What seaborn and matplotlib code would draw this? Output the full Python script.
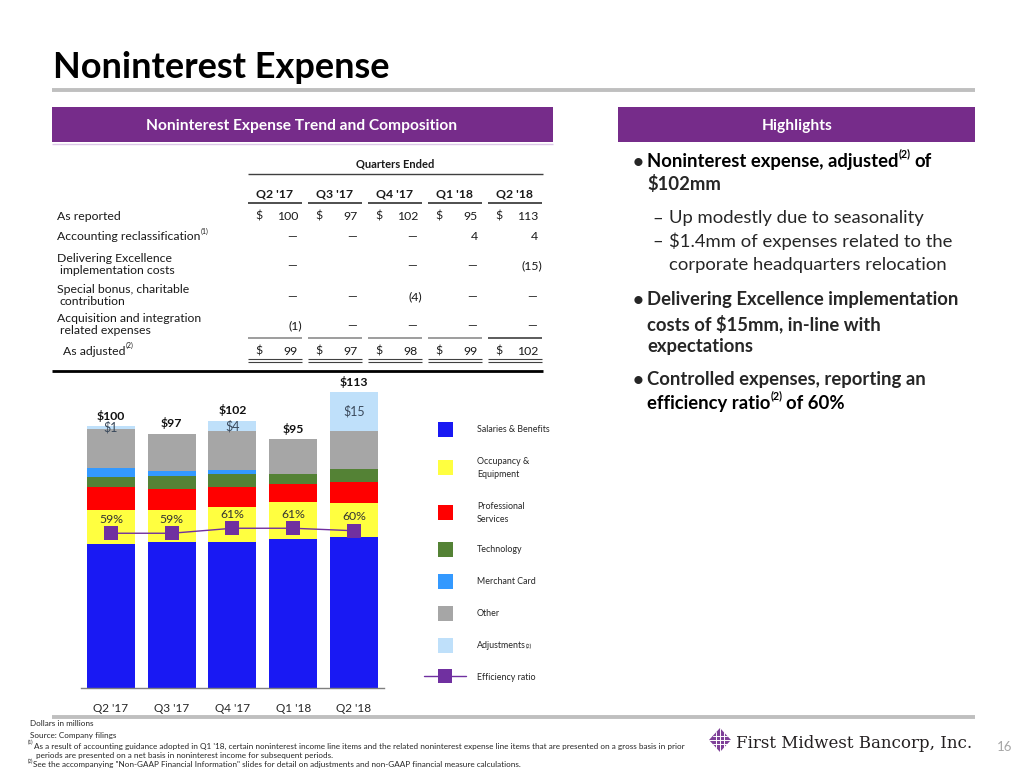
import numpy as np
import pandas as pd
import matplotlib
matplotlib.use("Agg")
import matplotlib.pyplot as plt
import seaborn as sns
from matplotlib.patches import Rectangle, Polygon
from matplotlib.lines import Line2D

# ---------------- data ----------------
quarters = ["Q2 '17", "Q3 '17", "Q4 '17", "Q1 '18", "Q2 '18"]
salaries = [55.0, 55.7, 55.7, 56.8, 57.7]
occupancy = [13.0, 12.2, 13.2, 14.1, 13.1]
professional = [8.9, 8.0, 7.9, 7.1, 7.9]
technology = [3.8, 5.0, 4.8, 3.8, 5.0]
merchant = [3.1, 2.0, 1.5, 0.0, 0.0]
other = [15.2, 14.1, 14.9, 13.2, 14.3]
adjustments = [1, 0, 4, 0, 15]
reported_total = [100, 97, 102, 95, 113]
efficiency = [59, 59, 61, 61, 60]

layer_names = ["Salaries & Benefits", "Occupancy &\nEquipment", "Professional\nServices",
               "Technology", "Merchant Card", "Other", "Adjustments"]
layer_colors = ["#1919F3", "#FFFF40", "#FF0000", "#548235", "#3399FF", "#A6A6A6", "#BFE0FA"]
eff_color = "#7030A0"

# table
row_labels = ["As reported", "Accounting reclassification", "Delivering Excellence\n implementation costs",
              "Special bonus, charitable\n contribution", "Acquisition and integration\n related expenses",
              "As adjusted"]
as_reported = [100, 97, 102, 95, 113]
accounting_reclass = [None, None, None, 4, 4]
de_costs = [None, "", None, None, -15]
special_bonus = [None, None, -4, None, None]
acquisition = [-1, None, None, None, None]
as_adjusted = [99, 97, 98, 99, 102]

# ---------------- figure ----------------
sns.set_theme(style="white")
plt.rcParams["font.family"] = ["Lato", "DejaVu Sans"]

W, H = 1024, 768
fig = plt.figure(figsize=(W / 100, H / 100), dpi=100)
fig.patch.set_facecolor("white")
renderer = fig.canvas.get_renderer()


def fx(x):
    return x / W


def fy(y):
    return 1 - y / H


def hline(x0, x1, y, color, lw):
    fig.add_artist(Line2D([fx(x0), fx(x1)], [fy(y), fy(y)], transform=fig.transFigure,
                          color=color, lw=lw, solid_capstyle="butt"))


def txt(x, y, s, fs, **kw):
    kw.setdefault("va", "center_baseline")
    return fig.text(fx(x), fy(y), s, fontsize=fs, **kw)


def run(x, y, parts, fs, weight="normal", color="#000000", family=None):
    em = fs * 100 / 72
    for s, kind in parts:
        if kind == "gap":
            x += s * em
            continue
        if kind == "sup":
            size, dy = fs * 0.58, -0.42 * em
        elif kind == "sub":
            size, dy = fs * 0.6, 0.12 * em
        else:
            size, dy = fs, 0
        kw = dict(fontsize=size, fontweight=weight, color=color, ha="left", va="center_baseline")
        if family:
            kw["family"] = family
        t = fig.text(fx(x), fy(y + dy), s, **kw)
        x += t.get_window_extent(renderer).width
    return x


# ---------------- title & headers ----------------
txt(53, 64, "Noninterest Expense", 26, fontweight="bold", color="#000000")
hline(52, 975, 90, "#BFBFBF", 2.8)

purple = "#762C8A"
fig.add_artist(Rectangle((fx(52), fy(142)), (553 - 52) / W, 35 / H, transform=fig.transFigure,
                         facecolor=purple, edgecolor="none"))
fig.add_artist(Rectangle((fx(618), fy(142)), (975 - 618) / W, 35 / H, transform=fig.transFigure,
                         facecolor=purple, edgecolor="none"))
hline(52, 553, 143.5, "#DCC8E8", 1)
txt(302, 124.5, "Noninterest Expense Trend and Composition", 11.2, fontweight="bold",
    color="white", ha="center")
txt(797, 124.5, "Highlights", 11.2, fontweight="bold", color="white", ha="center")

# ---------------- table ----------------
tfs = 8.8
col_right = [298, 358, 418, 478, 538]
dollar_x = [255, 315, 375, 435, 495]
segs = [(248, 302), (308, 362), (368, 422), (428, 482), (488, 542)]
txt(395, 163, "Quarters Ended", 8.0, fontweight="bold", ha="center", color="#1a1a1a")
hline(248, 543, 173.5, "#404040", 1.0)
for (a, b), q in zip(segs, quarters):
    txt((a + b) / 2, 193, q, tfs, fontweight="bold", ha="center", color="#1a1a1a")
    hline(a, b, 203, "#404040", 1.3)

label_pos = [(57, [215]), (57, [236]), (57, [258, 270]), (57, [289, 301]), (57, [318, 330]), (63, [350])]
for (x0, ys), lab in zip(label_pos, row_labels):
    lines = lab.split("\n")
    for yy, line in zip(ys, lines):
        if lab.startswith("Accounting"):
            run(x0, yy, [(line, "n"), ("(1)", "sup")], tfs, color="#1a1a1a")
        elif lab.startswith("As adjusted"):
            run(x0, yy, [(line, "n"), ("(2)", "sup")], tfs, color="#1a1a1a")
        else:
            txt(x0 + (3 if line.startswith(" ") else 0), yy, line.strip(), tfs, color="#1a1a1a")


def put_value(i, y, v, dollar=False):
    if v == "":
        return
    if dollar:
        txt(dollar_x[i], y, "$", tfs, color="#1a1a1a")
    if v is None:
        txt(col_right[i] - 1, y, "\u2014", tfs, ha="right", color="#1a1a1a")
    elif v < 0:
        txt(col_right[i] + 4, y, f"({-v})", tfs, ha="right", color="#1a1a1a")
    else:
        txt(col_right[i], y, f"{v}", tfs, ha="right", color="#1a1a1a")


rows_vals = [(as_reported, 215, True), (accounting_reclass, 236, False), (de_costs, 265, False),
             (special_bonus, 296, False), (acquisition, 325, False), (as_adjusted, 350, True)]
for vals, yy, dol in rows_vals:
    for i, v in enumerate(vals):
        put_value(i, yy, v, dol)

for k, (a, b) in enumerate(segs):
    hline(a, b, 337.5, "#404040" if k == 4 else "#8C8C8C", 1.2)
    hline(a, b, 359.5, "#404040", 0.8)
    hline(a, b, 362.3, "#404040", 0.8)
hline(52, 543, 371, "#000000", 2.0)

# ---------------- chart ----------------
ax = fig.add_axes([fx(80.6), fy(688), 303.75 / W, (688 - 375) / H])
ax.patch.set_alpha(0)
df = pd.DataFrame({"quarter": quarters})
layers = [salaries, occupancy, professional, technology, merchant, other, adjustments]
cum = np.zeros(len(quarters))
for i, vals in enumerate(layers):
    cum = cum + np.array(vals, dtype=float)
    df[f"c{i}"] = cum.copy()
for i in reversed(range(len(layers))):
    sns.barplot(data=df, x="quarter", y=f"c{i}", order=quarters, color=layer_colors[i],
                saturation=1, width=0.79, errorbar=None, linewidth=0, ax=ax)

ax.set_ylim(0, (688 - 375) / 2.62)
ax.set_xlim(-0.5, 4.5)
ax.set_xlabel("")
ax.set_ylabel("")
ax.set_yticks([])
for s in ["left", "top", "right"]:
    ax.spines[s].set_visible(False)
ax.spines["bottom"].set_color("#7F7F7F")
ax.spines["bottom"].set_linewidth(1.0)
ax.tick_params(axis="x", length=0, pad=11, labelsize=8.5, labelcolor="#262626")

base_tot = df["c5"].values
for i, (tot, adj) in enumerate(zip(reported_total, adjustments)):
    ax.annotate(f"${tot}", (i, tot), xytext=(0, 7.5), textcoords="offset points",
                ha="center", va="center", fontsize=8.8, fontweight="bold", color="#111111")
    if adj > 0:
        ax.text(i, base_tot[i] + adj / 2, f"${adj}", ha="center", va="center",
                fontsize=9, color="#3B4A5C")

ax2 = ax.twinx()
ax2.patch.set_alpha(0)
sns.lineplot(x=np.arange(len(quarters)), y=efficiency, ax=ax2, color=eff_color, linewidth=1.0,
             marker="s", markersize=10, markeredgewidth=0, alpha=1)
ax2.set_ylim(-2.9, 122.3)
ax2.set_yticks([])
ax2.set_ylabel("")
for s in ax2.spines.values():
    s.set_visible(False)
ax.set_xlim(-0.5, 4.5)
for i, v in enumerate(efficiency):
    ax2.annotate(f"{v}%", (i, v), xytext=(0, 10), textcoords="offset points",
                 ha="center", va="center", fontsize=8.8, color="#333333")

# legend (drawn manually to match irregular spacing)
leg_y = [429, 467, 512, 549, 581, 613, 645]
lfs = 6.4
for name, col, yy in zip(layer_names, layer_colors, leg_y):
    fig.add_artist(Rectangle((fx(438), fy(yy + 7.5)), 15 / W, 15 / H, transform=fig.transFigure,
                             facecolor=col, edgecolor="none"))
    lines = name.split("\n")
    if name == "Adjustments":
        run(477, yy, [(name, "n"), ("(2)", "sub")], lfs, color="#262626")
    elif len(lines) == 1:
        txt(477, yy, name, lfs, color="#262626")
    else:
        txt(477, yy - 6.5, lines[0], lfs, color="#262626")
        txt(477, yy + 6.5, lines[1], lfs, color="#262626")
fig.add_artist(Line2D([fx(424), fx(466)], [fy(676), fy(676)], transform=fig.transFigure,
                      color=eff_color, lw=1.0))
fig.add_artist(Line2D([fx(445)], [fy(676)], transform=fig.transFigure, color=eff_color,
                      marker="s", markersize=10, markeredgewidth=0, linestyle="none"))
txt(477, 676, "Efficiency ratio", lfs, color="#262626")

# ---------------- highlights ----------------
hfs = 13.3
run(647, 160, [("Noninterest expense, adjusted", "n"), ("(2)", "sup"), (0.22, "gap"), ("of", "n")],
    hfs, weight="bold")
txt(633, 161, "\u2022", hfs, fontweight="bold")
txt(647, 183, "$102mm", hfs, fontweight="bold")
for yy, line, dash in [(217, "Up modestly due to seasonality", True),
                       (240, "$1.4mm of expenses related to the", True),
                       (263, "corporate headquarters relocation", False)]:
    if dash:
        txt(652, yy, "\u2013", hfs)
    txt(669, yy, line, hfs)
txt(633, 299, "\u2022", hfs, fontweight="bold")
for yy, line in [(298, "Delivering Excellence implementation"), (322, "costs of $15mm, in-line with"),
                 (345, "expectations")]:
    txt(647, yy, line, hfs, fontweight="bold")
txt(633, 379, "\u2022", hfs, fontweight="bold")
txt(647, 378, "Controlled expenses, reporting an", hfs, fontweight="bold")
run(647, 402, [("efficiency ratio", "n"), ("(2)", "sup"), (0.22, "gap"), ("of 60%", "n")], hfs,
    weight="bold")

# ---------------- footer ----------------
hline(52, 975, 717, "#BFBFBF", 2.8)
ffs = 5.9
txt(30, 723.5, "Dollars in millions", ffs, color="#262626")
txt(30, 735, "Source: Company filings", ffs, color="#262626")
run(28, 745.5, [("(1)", "sup"), ("As a result of accounting guidance adopted in Q1 '18, certain noninterest income line items "
                                "and the related noninterest expense line items that are presented on a gross basis in prior", "n")],
    ffs, color="#262626")
txt(36, 755, "periods are presented on a net basis in noninterest income for subsequent periods.", ffs, color="#262626")
run(28, 764, [("(2)", "sup"), ("See the accompanying \"Non-GAAP Financial Information\" slides for detail on adjustments "
                              "and non-GAAP financial measure calculations.", "n")], ffs, color="#262626")

# logo
cx, cy, hw, hh = 720, 740, 11, 12
fig.add_artist(Polygon([(fx(cx - hw), fy(cy)), (fx(cx), fy(cy - hh)), (fx(cx + hw), fy(cy)), (fx(cx), fy(cy + hh))],
                       closed=True, transform=fig.transFigure, facecolor="#7E3F98", edgecolor="none"))
for d in [-4, 0, 4]:
    half = hw * (1 - abs(d) / hh)
    fig.add_artist(Line2D([fx(cx - half), fx(cx + half)], [fy(cy + d), fy(cy + d)], transform=fig.transFigure,
                          color="white", lw=0.7))
    halfv = hh * (1 - abs(d) / hw)
    fig.add_artist(Line2D([fx(cx + d), fx(cx + d)], [fy(cy - halfv), fy(cy + halfv)], transform=fig.transFigure,
                          color="white", lw=0.7))
txt(736, 742, "First Midwest Bancorp, Inc.", 12, family=["DejaVu Serif"], color="#231F20")
txt(1005, 746, "16", 9.5, color="#A6A6A6", ha="center")

fig.savefig("out.png", dpi=100)
